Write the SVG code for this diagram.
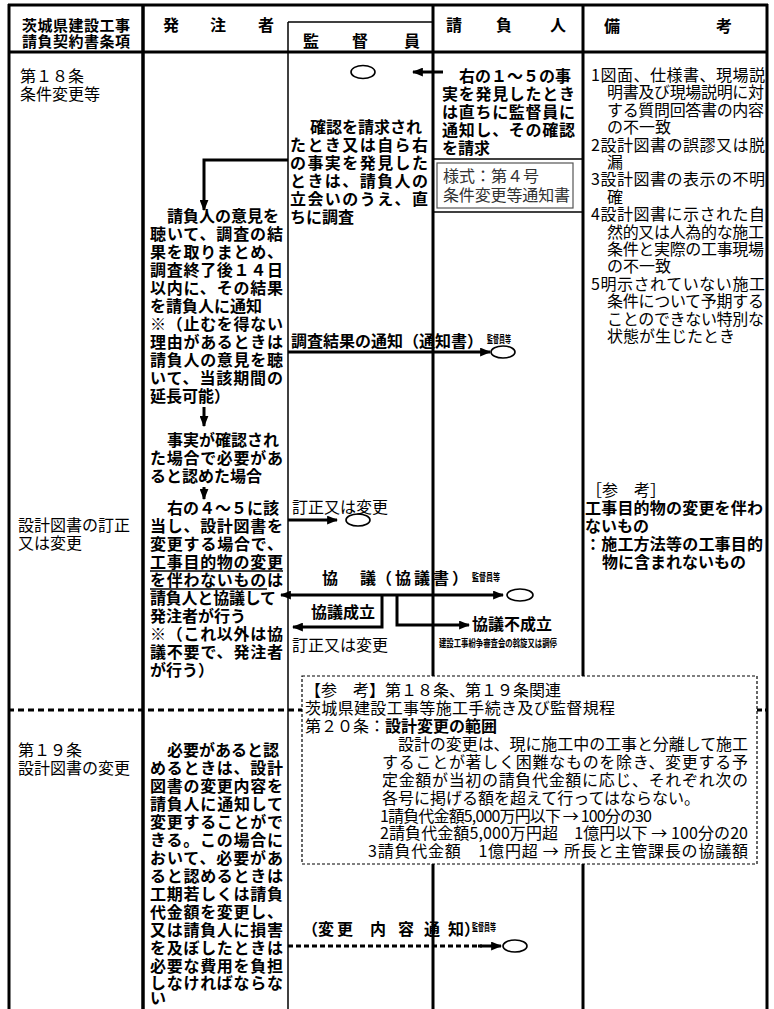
<svg xmlns="http://www.w3.org/2000/svg" width="774" height="1009" viewBox="0 0 774 1009">
<style>
text{font-family:"Noto Sans CJK JP","Noto Sans CJK SC",sans-serif;font-size:16px;fill:#000}
.b{font-weight:700}
.r{font-weight:400}
.h{font-size:15px;font-weight:700}
.t{font-size:10px;font-weight:700}
.g{fill:#333}
.frame{stroke:#000;stroke-width:3;fill:none}
.thin{stroke:#000;stroke-width:1.5;fill:none}
.conn{stroke:#000;stroke-width:3;fill:none}
.ov{fill:#fff;stroke:#000;stroke-width:1.6}
</style>
<defs>
<marker id="ah" viewBox="0 0 10 8" refX="9" refY="4" markerWidth="11" markerHeight="9" markerUnits="userSpaceOnUse" orient="auto-start-reverse"><path d="M0,0L10,4L0,8z" fill="#000"/></marker>
</defs>
<rect width="774" height="1009" fill="#fff"/>

<g id="table-frame">
<line class="frame" x1="8" y1="5" x2="768" y2="5"/>
<line class="frame" x1="8" y1="52" x2="768" y2="52"/>
<line class="frame" x1="9" y1="4" x2="9" y2="1009"/>
<line class="frame" x1="143" y1="4" x2="143" y2="1009" style="stroke-width:3.5"/>
<line class="thin" x1="288" y1="22" x2="288" y2="1009"/>
<line class="thin" x1="288" y1="22" x2="433" y2="22"/>
<line class="frame" x1="433" y1="4" x2="433" y2="676"/>
<line class="frame" x1="433" y1="864" x2="433" y2="1009"/>
<line class="frame" x1="583" y1="4" x2="583" y2="676"/>
<line class="frame" x1="583" y1="864" x2="583" y2="1009"/>
<line class="frame" x1="767" y1="4" x2="767" y2="1009"/>
<line x1="8" y1="710" x2="302" y2="710" stroke="#000" stroke-width="3" stroke-dasharray="6 4"/>
<line x1="757" y1="710" x2="767" y2="710" stroke="#000" stroke-width="3" stroke-dasharray="5 3"/>
</g>

<g id="header">
<text class="h" x="22" y="31" textLength="108">茨城県建設工事</text>
<text class="h" x="22" y="47" textLength="108">請負契約書条項</text>
<text class="b" x="163" y="31">発</text>
<text class="b" x="210" y="31">注</text>
<text class="b" x="258" y="31">者</text>
<text class="b" x="303" y="47">監</text>
<text class="b" x="352" y="47">督</text>
<text class="b" x="404" y="47">員</text>
<text class="b" x="446" y="31">請</text>
<text class="b" x="496" y="31">負</text>
<text class="b" x="550" y="31">人</text>
<text class="b" x="604" y="32">備</text>
<text class="b" x="716" y="32">考</text>
</g>

<g id="clause-18">
<text class="r" x="20" y="82">第１８条</text>
<text class="r" x="20" y="100">条件変更等</text>
</g>
<g id="clause-18-correction">
<text class="r" x="18" y="531">設計図書の訂正</text>
<text class="r" x="18" y="549">又は変更</text>
</g>
<g id="clause-19">
<text class="r" x="18" y="756">第１９条</text>
<text class="r" x="18" y="774">設計図書の変更</text>
</g>

<g id="contractor-notice">
<text class="b" x="459" y="82">右の１～５の事</text>
<text class="b" x="442" y="100" textLength="133">実を発見したとき</text>
<text class="b" x="442" y="118" textLength="133">は直ちに監督員に</text>
<text class="b" x="442" y="136" textLength="133">通知し、その確認</text>
<text class="b" x="442" y="154">を請求</text>
</g>

<g id="form-4">
<line class="thin" x1="433" y1="159" x2="583" y2="159"/>
<line class="thin" x1="433" y1="212" x2="583" y2="212"/>
<rect x="437" y="163" width="136" height="45" fill="none" stroke="#555" stroke-width="1.2"/>
<text class="r g" x="443" y="182">様式：第４号</text>
<text class="r g" x="443" y="201" textLength="127">条件変更等通知書</text>
</g>

<g id="notes-1">
<text class="r" x="591" y="81" textLength="174">1図面、仕様書、現場説</text>
<text class="r" x="607" y="98.4" textLength="157">明書及び現場説明に対</text>
<text class="r" x="607" y="115.8" textLength="157">する質問回答書の内容</text>
<text class="r" x="607" y="133.2">の不一致</text>
<text class="r" x="591" y="150.6" textLength="174">2設計図書の誤謬又は脱</text>
<text class="r" x="607" y="168">漏</text>
<text class="r" x="591" y="185.4" textLength="174">3設計図書の表示の不明</text>
<text class="r" x="607" y="202.8">確</text>
<text class="r" x="591" y="220.2" textLength="174">4設計図書に示された自</text>
<text class="r" x="607" y="237.6" textLength="157">然的又は人為的な施工</text>
<text class="r" x="607" y="255" textLength="157">条件と実際の工事現場</text>
<text class="r" x="607" y="272.4">の不一致</text>
<text class="r" x="591" y="289.8" textLength="174">5明示されていない施工</text>
<text class="r" x="607" y="307.2" textLength="157">条件について予期する</text>
<text class="r" x="607" y="324.6" textLength="157">ことのできない特別な</text>
<text class="r" x="607" y="342">状態が生じたとき</text>
</g>

<g id="notes-2">
<text class="r" x="586" y="496">［参　考］</text>
<text class="b" x="585" y="514" textLength="178">工事目的物の変更を伴わ</text>
<text class="b" x="585" y="532">ないもの</text>
<text class="b" x="585" y="550" textLength="178">：施工方法等の工事目的</text>
<text class="b" x="602" y="568">物に含まれないもの</text>
</g>

<g id="supervisor-check">
<text class="b" x="310" y="133">確認を請求され</text>
<text class="b" x="290" y="151" textLength="138">たとき又は自ら右</text>
<text class="b" x="290" y="169" textLength="138">の事実を発見した</text>
<text class="b" x="290" y="187" textLength="138">ときは、請負人の</text>
<text class="b" x="290" y="205" textLength="138">立会いのうえ、直</text>
<text class="b" x="290" y="223">ちに調査</text>
</g>

<g id="owner-investigation">
<text class="b" x="167" y="222">請負人の意見を</text>
<text class="b" x="150" y="240" textLength="133">聴いて、調査の結</text>
<text class="b" x="150" y="258" textLength="133">果を取りまとめ、</text>
<text class="b" x="150" y="276" textLength="133">調査終了後１４日</text>
<text class="b" x="150" y="294" textLength="133">以内に、その結果</text>
<text class="b" x="150" y="312">を請負人に通知</text>
<text class="b" x="150" y="330" textLength="133">※（止むを得ない</text>
<text class="b" x="150" y="348" textLength="133">理由があるときは</text>
<text class="b" x="150" y="366" textLength="133">請負人の意見を聴</text>
<text class="b" x="150" y="384" textLength="133">いて、当該期間の</text>
<text class="b" x="150" y="402">延長可能）</text>
</g>

<g id="owner-confirmed">
<text class="b" x="167" y="446">事実が確認され</text>
<text class="b" x="150" y="464" textLength="133">た場合で必要があ</text>
<text class="b" x="150" y="482">ると認めた場合</text>
</g>

<g id="owner-change">
<text class="b" x="167" y="514">右の４～５に該</text>
<text class="b" x="150" y="532" textLength="133">当し、設計図書を</text>
<text class="b" x="150" y="550" textLength="133">変更する場合で、</text>
<text class="b" x="150" y="568" textLength="133">工事目的物の変更</text>
<text class="b" x="150" y="586" textLength="133">を伴わないものは</text>
<text class="b" x="150" y="604" textLength="126">請負人と協議して</text>
<text class="b" x="150" y="622">発注者が行う</text>
<text class="b" x="150" y="640" textLength="133">※（これ以外は協</text>
<text class="b" x="150" y="658" textLength="133">議不要で、発注者</text>
<text class="b" x="150" y="676">が行う）</text>
<line x1="150" y1="571" x2="283" y2="571" stroke="#000" stroke-width="1.5"/>
<line x1="150" y1="589" x2="267" y2="589" stroke="#000" stroke-width="1.5"/>
</g>

<g id="owner-19">
<text class="b" x="167" y="756">必要があると認</text>
<text class="b" x="150" y="774" textLength="133">めるときは、設計</text>
<text class="b" x="150" y="792" textLength="133">図書の変更内容を</text>
<text class="b" x="150" y="810" textLength="133">請負人に通知して</text>
<text class="b" x="150" y="828" textLength="133">変更することがで</text>
<text class="b" x="150" y="846" textLength="133">きる。この場合に</text>
<text class="b" x="150" y="864" textLength="133">おいて、必要があ</text>
<text class="b" x="150" y="882" textLength="133">ると認めるときは</text>
<text class="b" x="150" y="900" textLength="133">工期若しくは請負</text>
<text class="b" x="150" y="918" textLength="133">代金額を変更し、</text>
<text class="b" x="150" y="936" textLength="133">又は請負人に損害</text>
<text class="b" x="150" y="954" textLength="133">を及ぼしたときは</text>
<text class="b" x="150" y="972" textLength="133">必要な費用を負担</text>
<text class="b" x="150" y="989" textLength="133">しなければならな</text>
<text class="b" x="150" y="1004">い</text>
</g>

<g id="ref-box">
<rect x="302" y="676" width="455" height="188" fill="#fff" stroke="#000" stroke-width="1.2" stroke-dasharray="3 2"/>
<text class="r" x="305" y="696">【参　考】第１８条、第１９条関連</text>
<text class="r" x="305" y="714" textLength="310">茨城県建設工事等施工手続き及び監督規程</text>
<text class="r" x="305" y="732">第２０条：<tspan class="b">設計変更の範囲</tspan></text>
<text class="r" x="398" y="750" textLength="350">設計の変更は、現に施工中の工事と分離して施工</text>
<text class="r" x="382" y="768" textLength="366">することが著しく困難なものを除き、変更する予</text>
<text class="r" x="382" y="786" textLength="366">定金額が当初の請負代金額に応じ、それぞれ次の</text>
<text class="r" x="382" y="804">各号に掲げる額を超えて行ってはならない。</text>
<text class="r" x="380" y="822" textLength="272">1請負代金額5,000万円以下 → 100分の30</text>
<text class="r" x="380" y="839" textLength="368">2請負代金額5,000万円超　1億円以下 → 100分の20</text>
<text class="r" x="368" y="857" textLength="380">3請負代金額　1億円超 → 所長と主管課長の協議額</text>
</g>

<g id="oval-top"><ellipse class="ov" cx="363" cy="72" rx="12" ry="6.5"/></g>
<g id="oval-result"><ellipse class="ov" cx="503" cy="352" rx="12" ry="6"/></g>
<g id="oval-correct"><ellipse class="ov" cx="358" cy="520" rx="12" ry="6"/></g>
<g id="oval-consult"><ellipse class="ov" cx="520" cy="595" rx="13" ry="6"/></g>
<g id="oval-change"><ellipse class="ov" cx="515" cy="946" rx="12" ry="6"/></g>

<g id="connectors">
<line class="conn" x1="443" y1="72" x2="413" y2="72" marker-end="url(#ah)"/>
<path class="conn" d="M288,160H204V210" marker-end="url(#ah)"/>
<line class="conn" x1="204" y1="407" x2="204" y2="426" marker-end="url(#ah)"/>
<line class="conn" x1="204" y1="487" x2="204" y2="499" marker-end="url(#ah)"/>
<line class="conn" x1="288" y1="352" x2="490" y2="352" marker-end="url(#ah)"/>
<line class="conn" x1="288" y1="520" x2="337" y2="520" marker-end="url(#ah)"/>
<line class="conn" x1="281" y1="595" x2="503" y2="595" marker-start="url(#ah)" marker-end="url(#ah)"/>
<path class="conn" d="M382,595V627H293" marker-end="url(#ah)"/>
<path class="conn" d="M397,595V625H469" marker-end="url(#ah)"/>
<line class="conn" x1="288" y1="946" x2="482" y2="946" stroke-dasharray="5 3"/>
<line class="conn" x1="478" y1="946" x2="501" y2="946" marker-end="url(#ah)"/>
</g>

<g id="connector-labels">
<text class="b" x="291" y="347" textLength="192">調査結果の通知（通知書）</text>
<text class="t" x="487" y="343" textLength="24" lengthAdjust="spacingAndGlyphs">監督員等</text>
<text class="r" x="292" y="513">訂正又は変更</text>
<text class="b" x="322" y="584">協</text>
<text class="b" x="360" y="584">議</text>
<text class="b" x="376" y="584" textLength="92">（協議書）</text>
<text class="t" x="472" y="581" textLength="28" lengthAdjust="spacingAndGlyphs">監督員等</text>
<text class="b" x="311" y="618">協議成立</text>
<text class="r" x="292" y="651">訂正又は変更</text>
<text class="b" x="472" y="630" textLength="80">協議不成立</text>
<text class="t" x="439" y="647" textLength="118" lengthAdjust="spacingAndGlyphs">建設工事紛争審査会の斡旋又は調停</text>
<text class="b" x="302" y="935">（変</text>
<text class="b" x="337" y="935">更</text>
<text class="b" x="370" y="935">内</text>
<text class="b" x="398" y="935">容</text>
<text class="b" x="424" y="935">通</text>
<text class="b" x="448" y="935">知）</text>
<text class="t" x="472" y="931" textLength="24" lengthAdjust="spacingAndGlyphs">監督員等</text>
</g>
</svg>
